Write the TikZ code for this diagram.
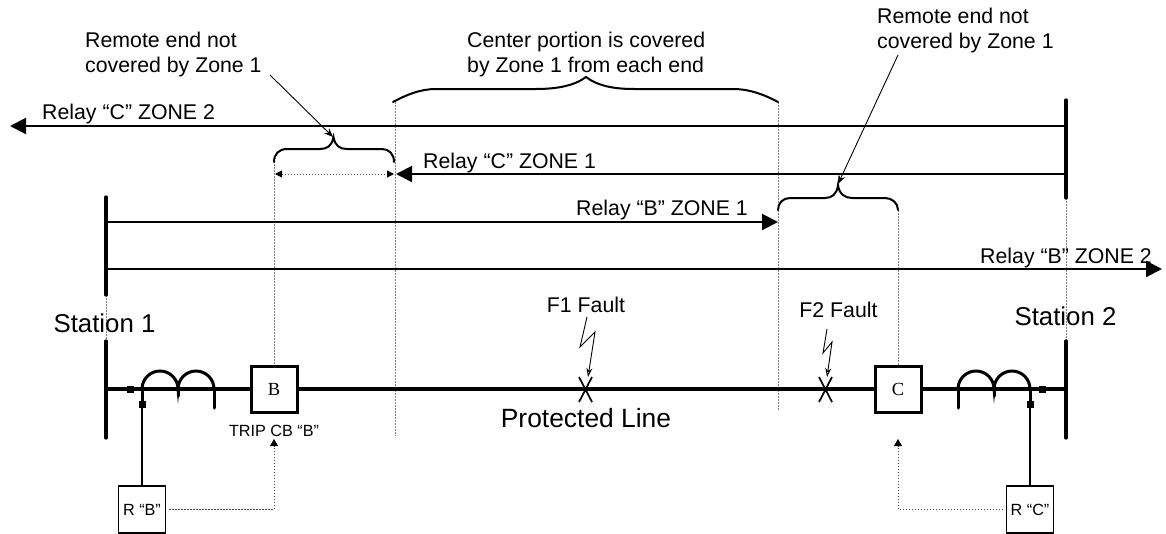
\documentclass[tikz,border=0pt]{standalone}
\usepackage{fontspec}
\setmainfont{Liberation Sans}
\newfontfamily\serifbox{Liberation Serif}
\usetikzlibrary{arrows.meta}
\tikzset{
  x=1pt,y=-1pt,
  lbl/.style={inner sep=0pt,font=\fontsize{21.3}{25}\selectfont,align=left},
  lblbig/.style={inner sep=0pt,font=\fontsize{25.8}{30}\selectfont},
  lblsmall/.style={inner sep=0pt,font=\fontsize{16.2}{19}\selectfont},
  bus/.style={line width=3.3pt,line cap=round},
  mainline/.style={line width=3.2pt},
  zone/.style={line width=2pt},
  bigarrow/.style={-{Triangle[length=16pt,width=16pt]}},
  dots/.style={line width=1pt,gray,dash pattern=on 1.5pt off 1.5pt},
  dotsb/.style={line width=1pt,black!70,dash pattern=on 1.5pt off 1.5pt},
  cb/.style={draw,line width=3pt,fill=white,minimum size=46pt,inner sep=0pt,font=\serifbox\fontsize{18.5}{20}\selectfont},
  relaybox/.style={draw,line width=1.8pt,fill=white,minimum size=47pt,inner sep=0pt,font=\fontsize{16.2}{19}\selectfont},
  sq/.style={fill=black,minimum size=7pt,inner sep=0pt},
  coil/.style={line width=3pt,line cap=round},
  leader/.style={line width=.9pt,-{Stealth[length=9pt,width=7pt]}},
  bolt/.style={line width=.9pt,-{Stealth[length=9pt,width=6pt,open]}},
  brace/.style={line width=2pt,line cap=round},
}
\begin{document}
\begin{tikzpicture}
\useasboundingbox (0,0) rectangle (1166,533);
% dotted verticals (drawn first)
\coordinate (s1a) at (106,295); \coordinate (s1b) at (106,341);
\coordinate (s2a) at (1066,198); \coordinate (s2b) at (1066,341);
\draw[dots] (s1a) -- (s1b);
\draw[dots] (s2a) -- (s2b);
\draw[dots] (395,102) -- (395,436);
\draw[dots] (778,102) -- (778,410);
\draw[dots] (274,161) -- (274,364);
\draw[dots] (898,210) -- (898,365);
% buses
\draw[bus] (106,197) -- (106,295);
\draw[bus] (106,341) -- (106,438);
\draw[bus] (1066,100) -- (1066,198);
\draw[bus] (1066,341) -- (1066,438);
% boxes
\node[cb] (B) at (274,389) {B};
\node[cb] (C) at (898,389) {C};
\node[relaybox] (RB) at (142,509.5) {R “B”};
\node[relaybox] (RC) at (1030,509.5) {R “C”};
% main line
\coordinate (m1) at (106,389); \coordinate (m2) at (1066,389);
\draw[mainline] (m1) -- (B);
\draw[mainline] (B) -- (C);
\draw[mainline] (C) -- (m2);
% zone arrows
\coordinate (cz2a) at (1066,126); \coordinate (cz2b) at (10,126);
\coordinate (cz1a) at (1066,174); \coordinate (cz1b) at (396,174);
\coordinate (bz1a) at (106,222); \coordinate (bz1b) at (778,222);
\coordinate (bz2a) at (106,269); \coordinate (bz2b) at (1162,269);
\draw[zone,bigarrow] (cz2a) -- (cz2b);
\draw[zone,bigarrow] (cz1a) -- (cz1b);
\draw[zone,bigarrow] (bz1a) -- (bz1b);
\draw[zone,bigarrow] (bz2a) -- (bz2b);
\node[lbl,anchor=base west] (t1) at (42,119) {Relay “C” ZONE 2};
\node[lbl,anchor=base west] (t2) at (423,168) {Relay “C” ZONE 1};
\node[lbl,anchor=base west] (t3) at (576,215.5) {Relay “B” ZONE 1};
\node[lbl,anchor=base west] (t4) at (980,263) {Relay “B” ZONE 2};
% braces
\draw[brace] (274,162) .. controls (274,154) and (279,149) .. (287,149) -- (320,149) .. controls (327,149) and (332,146) .. (333.5,137) .. controls (335,146) and (340,149) .. (347,149) -- (382,149) .. controls (389,149) and (394,154) .. (394,162);
\draw[brace] (778,210) .. controls (778,203) and (783,198) .. (790,198) -- (825,198) .. controls (832,198) and (837,194) .. (838,185) .. controls (839,194) and (845,198) .. (852,198) -- (885,198) .. controls (892,198) and (898,203) .. (898,210);
\draw[brace] (393,102) .. controls (406,95) and (420,89) .. (436,89) -- (536,89) .. controls (556,89) and (574,86) .. (586,77) .. controls (598,86) and (614,89) .. (634,89) -- (733,89) .. controls (750,89) and (765,95) .. (778,102);
% inner dotted arrow
\coordinate (da) at (275,174); \coordinate (db) at (394,174);
\draw[dotsb,{Triangle[length=7pt,width=7pt,color=black]}-{Triangle[length=7pt,width=7pt,color=black]}] (da) -- (db);
% annotation texts
\node[lbl,anchor=west] (rem1) at (85,54) {Remote end not\\covered by Zone 1};
\node[lbl,anchor=west] (cen) at (467,54) {Center portion is covered\\by Zone 1 from each end};
\node[lbl,anchor=west] (rem2) at (877,30) {Remote end not\\covered by Zone 1};
\coordinate (l1a) at (270,75); \coordinate (l1b) at (333,137);
\coordinate (l2a) at (898,55); \coordinate (l2b) at (838,184);
\draw[leader] (l1a) -- (l1b);
\draw[leader] (l2a) -- (l2b);
% stations and line label
\node[lblbig,anchor=base] (st1) at (104.5,332) {Station 1};
\node[lblbig,anchor=base] (st2) at (1065.5,325) {Station 2};
\node[lblbig,font=\fontsize{26.4}{30}\selectfont,anchor=base] (pl) at (586,427) {Protected Line};
\node[lblsmall,anchor=base] (trip) at (274,436) {TRIP CB “B”};
\node[lbl,anchor=base] (f1) at (586,312) {F1 Fault};
\node[lbl,anchor=base] (f2) at (838.5,317) {F2 Fault};
% fault crosses and bolts
\draw[line width=1.7pt] (579,377) -- (592,402) (592,377) -- (579,402);
\draw[line width=1.7pt] (819,377) -- (832,402) (832,377) -- (819,402);
\draw[bolt] (587,317) -- (580,347) -- (595,332) -- (588,377);
\draw[bolt] (827,329) -- (823,353) -- (832,342) -- (827,377);
% current transformers, left
\draw[coil] (142,389) arc[start angle=180,end angle=360,radius=18] arc[start angle=180,end angle=360,radius=18];
\draw[coil] (178,389) -- (178,396);
\draw[coil] (214,389) -- (214,408);
\draw[coil] (142,389) -- (142,404);
\node[sq] (s1) at (130,389) {};
\node[sq] (s2) at (142,404) {};
\draw[line width=1.8pt] (s2) -- (RB);
% right
\draw[coil] (958,389) arc[start angle=180,end angle=360,radius=18] arc[start angle=180,end angle=360,radius=18];
\draw[coil] (994,389) -- (994,396);
\draw[coil] (958,389) -- (958,408);
\draw[coil] (1030,389) -- (1030,404);
\node[sq] (s3) at (1042,389) {};
\node[sq] (s4) at (1030,404) {};
\draw[line width=1.8pt] (s4) -- (RC);
% trip signals
\coordinate (tb) at (274,439); \coordinate (tc) at (898,439);
\coordinate (kb) at (274,509); \coordinate (kc) at (898,509);
\draw[dotsb,-{Triangle[length=7pt,width=8pt,color=black]}] (169,509) -- (kb) -- (tb);
\draw[dotsb,-{Triangle[length=7pt,width=8pt,color=black]}] (1003,509) -- (kc) -- (tc);
\end{tikzpicture}
\end{document}
